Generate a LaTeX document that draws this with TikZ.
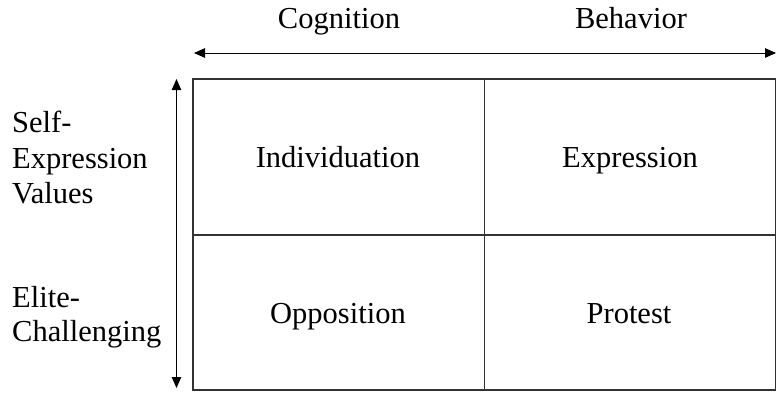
\documentclass[tikz,border=0pt]{standalone}
\usepackage{fontspec}
\setmainfont{Liberation Serif}
\usetikzlibrary{arrows.meta}
\begin{document}
\begin{tikzpicture}[x=1pt,y=-1pt,
  lbl/.style={font=\fontsize{30.5}{35}\selectfont, anchor=base, inner sep=0pt},
  grid/.style={line width=1.4pt, draw=black!80},
  axis/.style={line width=0.9pt, {Triangle[length=11pt,width=9.5pt]}-{Triangle[length=11pt,width=9.5pt]}}]
\useasboundingbox (0,0) rectangle (777,392);
% table corners
\coordinate (tl) at (193,79);
\coordinate (br) at (775.5,390);
\coordinate (mt) at (484.5,79);
\coordinate (mb) at (484.5,390);
\coordinate (ml) at (193,235);
\coordinate (mr) at (775.5,235);
\draw[grid] (tl) rectangle (br);
\draw[grid] (mt) -- (mb);
\draw[grid] (ml) -- (mr);
% axes
\coordinate (hl) at (194,53);
\coordinate (hr) at (776,53);
\coordinate (vt) at (176.5,79);
\coordinate (vb) at (176.5,388);
\draw[axis] (hl) -- (hr);
\draw[axis] (vt) -- (vb);
% headings
\node[lbl] (cog) at (339,28) {Cognition};
\node[lbl] (beh) at (631,28) {Behavior};
% cells
\node[lbl] (ind) at (338,167) {Individuation};
\node[lbl] (exp) at (630,167) {Expression};
\node[lbl] (opp) at (338,323) {Opposition};
\node[lbl] (pro) at (629,323) {Protest};
% row labels
\node[lbl, anchor=base west] (sev1) at (12,132) {Self-};
\node[lbl, anchor=base west] (sev2) at (12,168) {Expression};
\node[lbl, anchor=base west] (sev3) at (12,203) {Values};
\node[lbl, anchor=base west] (ec1) at (12,307) {Elite-};
\node[lbl, anchor=base west] (ec2) at (12,341) {Challenging};
\end{tikzpicture}
\end{document}
